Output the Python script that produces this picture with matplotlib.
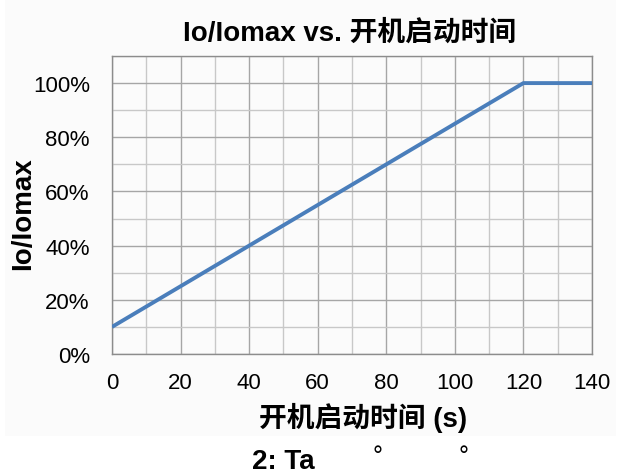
import matplotlib
matplotlib.use('Agg')
import matplotlib.pyplot as plt
from matplotlib.ticker import MultipleLocator, PercentFormatter

plt.rcParams['font.family'] = ['Liberation Sans', 'Noto Sans CJK SC', 'DejaVu Sans']

# data
time_s = [0, 20, 40, 60, 80, 100, 120, 140]
io_ratio = [0.10, 0.25, 0.40, 0.55, 0.70, 0.85, 1.00, 1.00]

title = 'Io/Iomax vs. 开机启动时间'
x_label = '开机启动时间 (s)'
y_label = 'Io/Iomax'

fig = plt.figure(figsize=(6.22, 4.77), dpi=100)
fig.patch.set_facecolor('white')
# light grey chart area like the spreadsheet export
bg = fig.add_axes([0.008, 1 - 437 / 477, 0.983, 437 / 477])
bg.set_facecolor('#fbfbfb')
bg.set_xticks([])
bg.set_yticks([])
for s in bg.spines.values():
    s.set_visible(False)
bg.set_zorder(-1)

ax = fig.add_axes([112 / 622, 1 - 355 / 477, 480 / 622, 298 / 477])
ax.set_facecolor('#fbfbfb')
ax.plot(time_s, io_ratio, color='#4a7ebb', lw=2.8, solid_capstyle='butt', zorder=3)

ax.set_xlim(0, 140)
ax.set_ylim(0, 1.1)
ax.xaxis.set_major_locator(MultipleLocator(20))
ax.xaxis.set_minor_locator(MultipleLocator(10))
ax.yaxis.set_major_locator(MultipleLocator(0.2))
ax.yaxis.set_minor_locator(MultipleLocator(0.1))
ax.yaxis.set_major_formatter(PercentFormatter(1.0, decimals=0))

ax.grid(which='major', color='#a6a6a6', lw=1.0)
ax.grid(which='minor', color='#c8c8c8', lw=1.0)
ax.tick_params(which='both', length=0, labelsize=16, colors='#000000')
ax.tick_params(axis='y', pad=16)
ax.tick_params(axis='x', pad=13)
for s in ax.spines.values():
    s.set_color('#8c8c8c')
    s.set_linewidth(1.0)

fig.text(350 / 622, 1 - 33 / 477, title, fontsize=20, fontweight='bold', ha='center', va='center')
fig.text(363 / 622, 1 - 418 / 477, x_label, fontsize=20, fontweight='bold', ha='center', va='center')
fig.text(23 / 622, 1 - 214 / 477, y_label, fontsize=20, fontweight='bold', ha='center', va='center',
         rotation=90)

fig.text(252 / 622, 1 - 462 / 477, '2: Ta', fontsize=20, fontweight='bold', va='center')
fig.text(377 / 622, 1 - 457 / 477, '°', fontsize=18, ha='center', va='center')
fig.text(463 / 622, 1 - 457 / 477, '°', fontsize=18, ha='center', va='center')

fig.savefig('out.png', dpi=100)
